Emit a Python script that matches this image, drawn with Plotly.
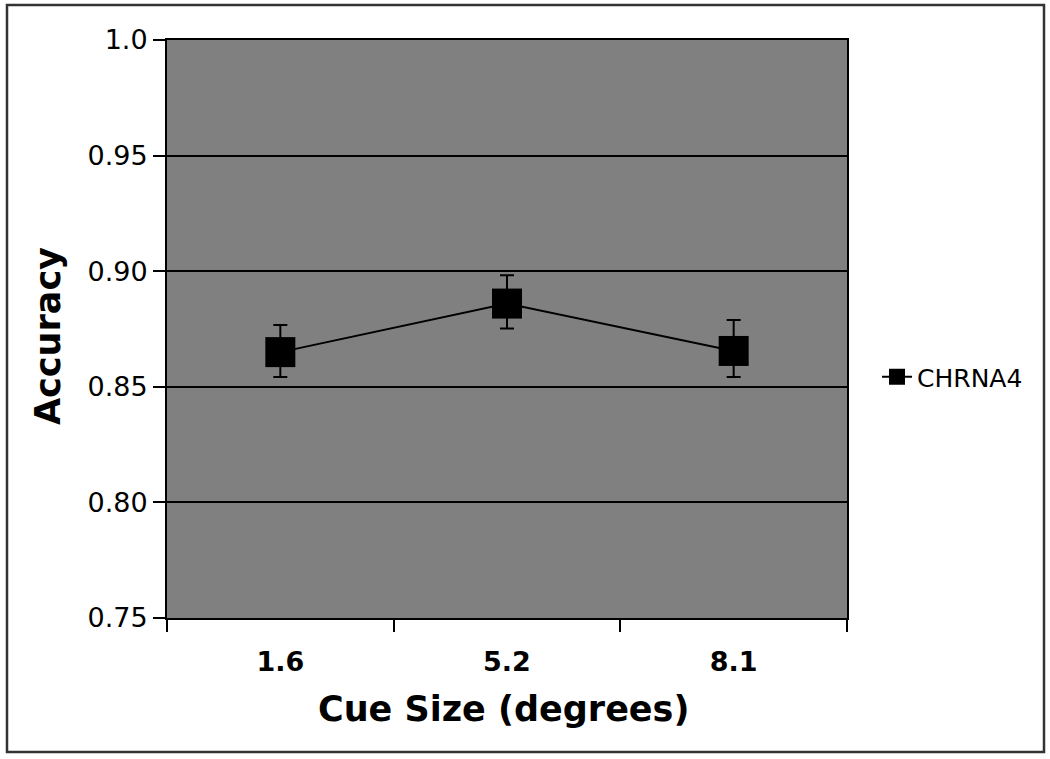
import plotly.graph_objects as go

categories = ["1.6", "5.2", "8.1"]
accuracy = [0.865, 0.886, 0.8655]
err_plus = [0.0117, 0.0122, 0.0134]
err_minus = [0.0108, 0.0108, 0.0113]
series_name = "CHRNA4"
y_ticks = [0.75, 0.80, 0.85, 0.90, 0.95, 1.0]
y_ticklabels = ["0.75", "0.80", "0.85", "0.90", "0.95", "1.0"]

FONT = "DejaVu Sans, Verdana, sans-serif"

# plot area in page pixels
L, R, T, B = 167, 847, 40, 618
W, H = 1050, 759
PW, PH = R - L, B - T


def px(x):
    return (x - L) / PW


def py(y):
    return (B - y) / PH


fig = go.Figure()
fig.add_trace(go.Scatter(
    x=categories, y=accuracy, name=series_name, mode="lines+markers",
    line=dict(color="black", width=2),
    marker=dict(symbol="square", size=30, color="black"),
    error_y=dict(type="data", symmetric=False, array=err_plus, arrayminus=err_minus,
                 color="black", thickness=2, width=7),
    showlegend=True,
))

fig.update_layout(
    width=W, height=H,
    margin=dict(l=L, r=W - R, t=T, b=H - B),
    paper_bgcolor="white", plot_bgcolor="#808080",
    font=dict(family=FONT, color="black"),
    legend=dict(x=px(877), xanchor="left", y=py(377), yanchor="middle",
                font=dict(size=25, family=FONT), bgcolor="rgba(0,0,0,0)",
                itemwidth=30),
    xaxis=dict(type="category", range=[-0.5, 2.5], showgrid=False,
               showline=True, linecolor="black", linewidth=2, mirror=True,
               ticks="outside", tickson="boundaries", ticklen=12, tickwidth=2, tickcolor="black",
               tickfont=dict(size=27, family=FONT, weight="bold"), ticklabelstandoff=19),
    yaxis=dict(range=[0.75, 1.0], tickvals=y_ticks, ticktext=y_ticklabels,
               showgrid=True, gridcolor="black", gridwidth=2,
               showline=True, linecolor="black", linewidth=2, mirror=True,
               ticks="outside", ticklen=12, tickwidth=2, tickcolor="black",
               tickfont=dict(size=27, family=FONT), zeroline=False),
    annotations=[
        dict(text="<b>Accuracy</b>", xref="paper", yref="paper",
             x=px(48), y=py(336), xanchor="center", yanchor="middle",
             showarrow=False, textangle=-90, font=dict(size=35, family=FONT)),
        dict(text="<b>Cue Size (degrees)</b>", xref="paper", yref="paper",
             x=px(503), y=py(709), xanchor="center", yanchor="middle",
             showarrow=False, font=dict(size=35, family=FONT)),
    ],
    shapes=[
        dict(type="rect", xref="paper", yref="paper",
             x0=px(7), x1=px(1044), y0=py(752), y1=py(5),
             line=dict(color="#333333", width=2.5), layer="below"),
    ],
)

fig.write_html("out.html", config={"displayModeBar": False},
               post_script="document.body.style.margin='0px';")
